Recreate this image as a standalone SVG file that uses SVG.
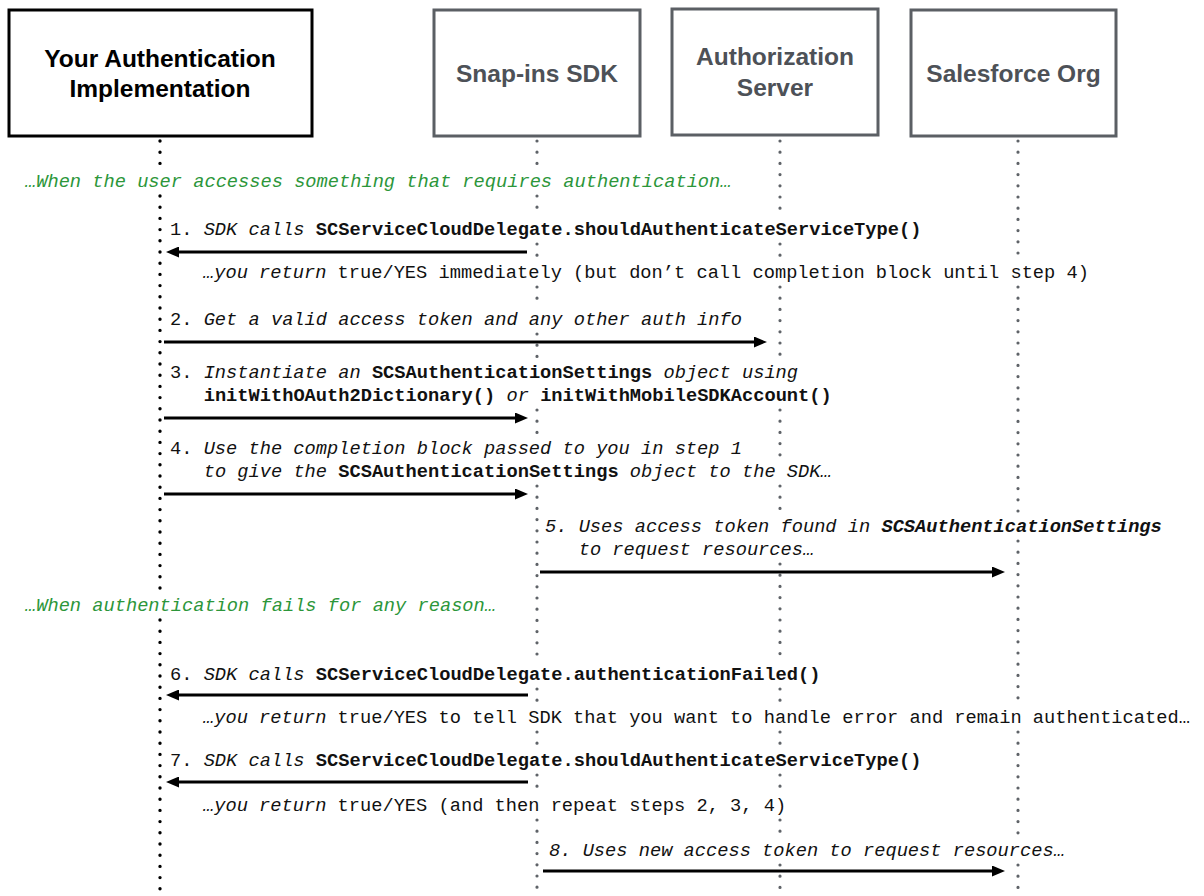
<svg xmlns="http://www.w3.org/2000/svg" width="1204" height="896" viewBox="0 0 1204 896">
<defs>
<style>
.box{fill:#fff;stroke-width:3}
.b1{stroke:#000}
.b2{stroke:#5b5f64}
.title{font-family:"Liberation Sans",Arial,sans-serif;font-weight:bold;font-size:24.5px;text-anchor:middle}
.t1{fill:#000}
.t2{fill:#4d5157}
.life{fill:none;stroke-linecap:round;stroke-dasharray:0 11.2}
.l1{stroke:#000;stroke-width:3.4}
.l2{stroke:#5f6368;stroke-width:3.2}
.msg{fill:none;stroke:#000;stroke-width:3;marker-end:url(#ah)}
.txt{font-family:"Liberation Mono","Courier New",monospace;font-size:18.7px;fill:#111}
.i{font-style:italic}
.b{font-weight:bold}
.g{fill:#2c963a;font-style:italic}
</style>
<marker id="ah" markerUnits="userSpaceOnUse" markerWidth="14" markerHeight="11" refX="5" refY="5.5" orient="auto">
<path d="M0,0 L13,5.5 L0,11 z" fill="#000"/>
</marker>
</defs>
<rect width="1204" height="896" fill="#fff"/>

<g id="lifelines">
<path class="life l1" d="M160,141 V166 M160,196 V590 M160,620 V896"/>
<path class="life l2" d="M537,141 V166 M537,196 V214 M537,244 V257 M537,287 V304 M537,334 V357 M537,410 V433 M537,486 V659 M537,689 V702 M537,732 V745 M537,775 V790 M537,820 V896"/>
<path class="life l2" d="M780,141 V214 M780,244 V257 M780,287 V357 M780,410 V456 M780,486 V511 M780,564 V659 M780,689 V702 M780,732 V745 M780,775 V790 M780,820 V835 M780,865 V896"/>
<path class="life l2" d="M1018,141 V257 M1018,287 V511 M1018,541 V702 M1018,732 V835 M1018,865 V896"/>
</g>

<g id="node-auth-impl">
<rect class="box b1" x="9" y="10" width="303" height="126"/>
<text class="title t1" x="160" y="67">Your Authentication</text>
<text class="title t1" x="160" y="97">Implementation</text>
</g>
<g id="node-snapins-sdk">
<rect class="box b2" x="434" y="10" width="206" height="126"/>
<text class="title t2" x="537" y="82">Snap-ins SDK</text>
</g>
<g id="node-authorization-server">
<rect class="box b2" x="672" y="9" width="206" height="126"/>
<text class="title t2" x="775" y="65">Authorization</text>
<text class="title t2" x="775" y="96">Server</text>
</g>
<g id="node-salesforce-org">
<rect class="box b2" x="911" y="10" width="205" height="126"/>
<text class="title t2" x="1013.5" y="82">Salesforce Org</text>
</g>

<g id="connectors">
<path class="msg" d="M527,252 L174,252"/>
<path class="msg" d="M164,342 L759,342"/>
<path class="msg" d="M164,418 L520,418"/>
<path class="msg" d="M164,494 L520,494"/>
<path class="msg" d="M540,572 L997,572"/>
<path class="msg" d="M528,695 L174,695"/>
<path class="msg" d="M528,782 L174,782"/>
<path class="msg" d="M543,871 L997,871"/>
</g>

<g id="labels">
<text class="txt g" x="25" y="187">…When the user accesses something that requires authentication…</text>
<text class="txt" x="170" y="235">1. <tspan class="i">SDK calls </tspan><tspan class="b">SCServiceCloudDelegate.shouldAuthenticateServiceType()</tspan></text>
<text class="txt" x="203" y="278"><tspan class="i">…you return </tspan>true/YES immediately (but don’t call completion block until step 4)</text>
<text class="txt" x="170" y="325">2. <tspan class="i">Get a valid access token and any other auth info</tspan></text>
<text class="txt" x="170" y="378">3. <tspan class="i">Instantiate an </tspan><tspan class="b">SCSAuthenticationSettings</tspan><tspan class="i"> object using</tspan></text>
<text class="txt" x="203.7" y="401"><tspan class="b">initWithOAuth2Dictionary()</tspan><tspan class="i"> or </tspan><tspan class="b">initWithMobileSDKAccount()</tspan></text>
<text class="txt" x="170" y="454">4. <tspan class="i">Use the completion block passed to you in step 1</tspan></text>
<text class="txt" x="203.7" y="477"><tspan class="i">to give the </tspan><tspan class="b">SCSAuthenticationSettings</tspan><tspan class="i"> object to the SDK…</tspan></text>
<text class="txt i" x="545" y="532">5. Uses access token found in <tspan class="b">SCSAuthenticationSettings</tspan></text>
<text class="txt i" x="578.7" y="555">to request resources…</text>
<text class="txt g" x="25" y="611">…When authentication fails for any reason…</text>
<text class="txt" x="170" y="680">6. <tspan class="i">SDK calls </tspan><tspan class="b">SCServiceCloudDelegate.authenticationFailed()</tspan></text>
<text class="txt" x="203" y="723"><tspan class="i">…you return </tspan>true/YES to tell SDK that you want to handle error and remain authenticated…</text>
<text class="txt" x="170" y="766">7. <tspan class="i">SDK calls </tspan><tspan class="b">SCServiceCloudDelegate.shouldAuthenticateServiceType()</tspan></text>
<text class="txt" x="203" y="811"><tspan class="i">…you return </tspan>true/YES (and then repeat steps 2, 3, 4)</text>
<text class="txt i" x="549" y="856">8. Uses new access token to request resources…</text>
</g>
</svg>
